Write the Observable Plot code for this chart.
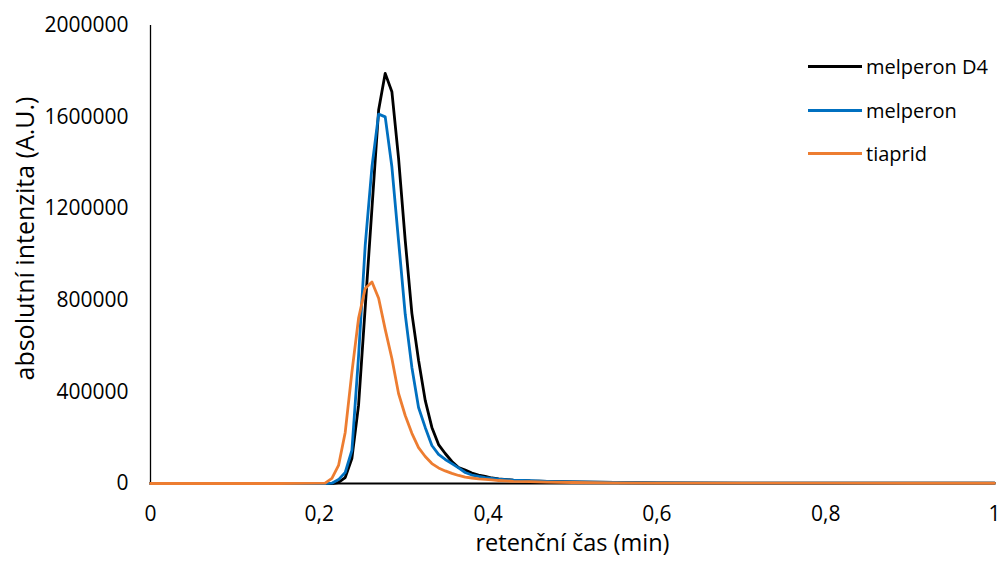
<!DOCTYPE html>
<html>
<head>
<meta charset="utf-8">
<script src="https://cdn.jsdelivr.net/npm/d3@7"></script>
<script src="https://cdn.jsdelivr.net/npm/@observablehq/plot@0.6"></script>
<style>
  html, body { margin: 0; padding: 0; background: #fff; }
  #chart { position: relative; width: 1000px; height: 565px; font-family: "Open Sans", Lato, sans-serif; }
  #legend { position: absolute; left: 808px; top: 45px; font-size: 20px; color: #000; }
  #legend .item { display: flex; align-items: center; height: 43.5px; }
  #legend .swatch { width: 54px; height: 3px; margin-right: 4px; }
</style>
</head>
<body>
<div id="chart"></div>
<script>
// Retention time (min) and absolute intensity (A.U.) of the three analytes
const time = [0, 0.05, 0.10, 0.15, 0.2069, 0.2149, 0.2228, 0.2307, 0.2386, 0.2465,
  0.2544, 0.2624, 0.2703, 0.2781, 0.2860, 0.2939, 0.3018, 0.3097, 0.3176, 0.3255,
  0.3334, 0.3413, 0.3492, 0.3571, 0.3650, 0.3729, 0.3808, 0.3887, 0.3966, 0.4045,
  0.4124, 0.43, 0.45, 0.47, 0.50, 0.55, 0.60, 0.70, 0.80, 0.90, 1.0];

const melperonD4 = [0, 0, 0, 0, 0, 0, 4400, 26000, 109000, 341000,
  769000, 1202000, 1631000, 1791000, 1711000, 1421000, 1062000, 743000, 538000, 363000,
  245000, 170000, 131000, 96000, 70000, 59000, 46000, 37000, 31000, 24000,
  20000, 15000, 11000, 8700, 6500, 4400, 3000, 2000, 1500, 1200, 1000];

const melperon = [0, 0, 0, 0, 0, 1500, 17000, 48000, 144000, 555000,
  1040000, 1383000, 1613000, 1601000, 1383000, 1060000, 739000, 507000, 332000, 245000,
  166000, 127000, 105000, 87000, 68000, 48000, 37000, 31000, 26000, 22000,
  18500, 14500, 12000, 9600, 7000, 4400, 2800, 2000, 1500, 1200, 1000];

const tiaprid = [0, 0, 0, 0, 2000, 22000, 79000, 223000, 485000, 721000,
  852000, 880000, 809000, 673000, 546000, 393000, 297000, 219000, 157000, 118000,
  87000, 68000, 55000, 44000, 35000, 28000, 24000, 20000, 18000, 15500,
  13000, 9600, 8000, 6000, 4400, 2600, 2000, 1500, 1500, 1200, 1000];

const seriesNames = ["melperon D4", "melperon", "tiaprid"];
const seriesColors = ["#000000", "#0070C0", "#ED7D31"];
const seriesValues = [melperonD4, melperon, tiaprid];

const xTicks = [0, 0.2, 0.4, 0.6, 0.8, 1];
const yTicks = [0, 400000, 800000, 1200000, 1600000, 2000000];

const rows = seriesNames.flatMap((name, s) =>
  time.map((t, i) => ({series: name, t, v: seriesValues[s][i]})));

const fmtX = d => String(d).replace(".", ",");

const plot = Plot.plot({
  width: 1000,
  height: 565,
  marginLeft: 150,
  marginRight: 6,
  marginTop: 25,
  marginBottom: 82,
  style: {fontFamily: "'Open Sans', Lato, sans-serif", fontSize: "21px", color: "#000", background: "#fff"},
  x: {domain: [0, 1]},
  y: {domain: [0, 2000000]},
  color: {domain: seriesNames, range: seriesColors},
  marks: [
    Plot.axisX({ticks: xTicks, tickFormat: fmtX, tickSize: 0, tickPadding: 23, label: null, fontSize: 21}),
    Plot.axisY({ticks: yTicks, tickFormat: d => String(d), tickSize: 0, tickPadding: 22, label: null, fontSize: 21}),
    Plot.ruleY([0], {stroke: "#000", strokeWidth: 2}),
    Plot.ruleX([0], {stroke: "#000", strokeWidth: 1.3}),
    Plot.line(rows, {x: "t", y: "v", z: "series", stroke: "series", strokeWidth: 2.8, strokeLinejoin: "round", strokeLinecap: "round"}),
    Plot.text(["retenční čas (min)"], {frameAnchor: "bottom", dy: 67, fontSize: 23.5, fill: "#000"}),
    Plot.text(["absolutní intenzita (A.U.)"], {frameAnchor: "left", textAnchor: "middle", dx: -125, dy: -16, rotate: -90, fontSize: 25, fill: "#000"})
  ]
});

const chart = document.getElementById("chart");
chart.appendChild(plot);

const legend = document.createElement("div");
legend.id = "legend";
seriesNames.forEach((name, i) => {
  const item = document.createElement("div");
  item.className = "item";
  const sw = document.createElement("div");
  sw.className = "swatch";
  sw.style.background = seriesColors[i];
  const label = document.createElement("span");
  label.textContent = name;
  item.appendChild(sw);
  item.appendChild(label);
  legend.appendChild(item);
});
chart.appendChild(legend);
</script>
</body>
</html>
